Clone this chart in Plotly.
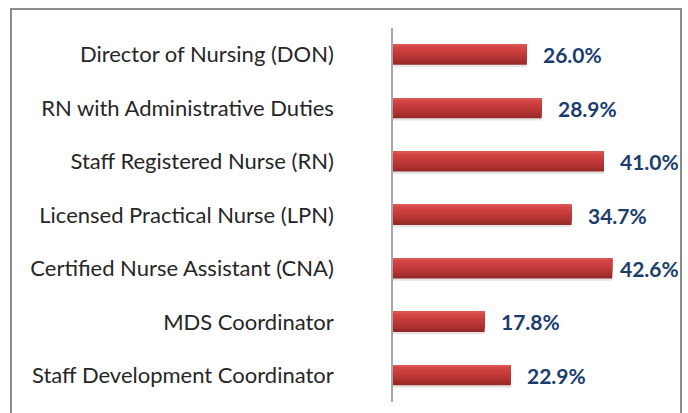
import plotly.graph_objects as go

categories = [
    "Director of Nursing (DON)",
    "RN with Administrative Duties",
    "Staff Registered Nurse (RN)",
    "Licensed Practical Nurse (LPN)",
    "Certified Nurse Assistant (CNA)",
    "MDS Coordinator",
    "Staff Development Coordinator",
]
values = [26.0, 28.9, 41.0, 34.7, 42.6, 17.8, 22.9]
value_labels = ["26.0%", "28.9%", "41.0%", "34.7%", "42.6%", "17.8%", "22.9%"]

W, H = 688, 413
ML, MR, MT, MB = 393, 12, 28, 11
PW, PH = W - ML - MR, H - MT - MB
XMAX = 55

fig = go.Figure()

bar_w = 0.375
top = -bar_w / 2
# soft shadow
fig.add_trace(go.Bar(y=categories, x=values, orientation="h",
                     marker=dict(color="rgba(0,0,0,0.10)", line=dict(width=0)),
                     offset=top + 0.035, width=bar_w + 0.01, hoverinfo="skip"))
# gradient: darkest full bar first, lighter bars cover progressively less of the top
bands = ["#9a2a29", "#a62e2d", "#b13332", "#bb3736", "#c43a39", "#cb3e3d", "#d24544", "#dc5553"]
n = len(bands)
for i, c in enumerate(bands):
    frac = (n - i) / n
    if i == n - 1:
        frac = 0.08
    fig.add_trace(go.Bar(y=categories, x=values, orientation="h",
                         marker=dict(color=c, line=dict(width=0)),
                         offset=top, width=bar_w * frac,
                         hoverinfo="skip"))

label_w = 60
for cat, v, lab in zip(categories, values, value_labels):
    end_px = ML + v * PW / XMAX
    shift = min(14, 678 - label_w - end_px)
    fig.add_annotation(x=v, y=cat, text="<b>%s</b>" % lab, showarrow=False,
                       xanchor="left", yanchor="middle", xshift=shift,
                       font=dict(family="Lato", size=21, color="#1b3d6d"))

# outer border (pixel -> paper coordinates)
def px(xp):
    return (xp - ML) / PW
def py(yp):
    return (H - MB - yp) / PH

fig.add_shape(type="rect", xref="paper", yref="paper",
              x0=px(11), x1=px(681), y0=py(440), y1=py(9),
              line=dict(color="#8c8c8c", width=2), fillcolor="rgba(0,0,0,0)",
              layer="below")

fig.update_layout(
    width=W, height=H,
    margin=dict(l=ML, r=MR, t=MT, b=MB),
    barmode="overlay",
    showlegend=False,
    hovermode=False,
    plot_bgcolor="white",
    paper_bgcolor="white",
    xaxis=dict(range=[0, XMAX], visible=False, fixedrange=True),
    yaxis=dict(categoryorder="array", categoryarray=categories,
               autorange="reversed", showline=True, linecolor="#a6a6a6",
               linewidth=1.5, showgrid=False, ticks="", ticklabelstandoff=53,
               tickfont=dict(family="Lato", size=22, color="#262626"),
               zeroline=False, fixedrange=True),
)

fig.write_html("out.html", config={"displayModeBar": False},
               post_script="document.body.style.margin='0';document.body.style.overflow='hidden';")
